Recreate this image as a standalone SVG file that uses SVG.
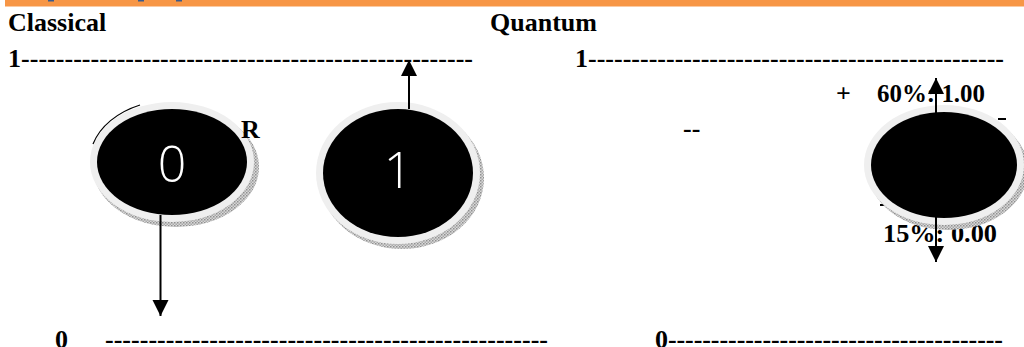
<svg xmlns="http://www.w3.org/2000/svg" width="1024" height="347" viewBox="0 0 1024 347">
<style>
.lbl{font-family:"Liberation Serif","Times New Roman",serif;font-weight:bold;font-size:26px;fill:#000}
.sm{font-size:25px}
.dig{font-family:"Open Sans","Noto Sans",sans-serif;font-weight:300;font-size:50px;fill:#fff;text-anchor:middle}
.ring{fill:#efefef}
.core{fill:#000}
.shadow{fill:url(#hatch)}
.conn{stroke:#000;stroke-width:2;fill:none}
</style>
<defs>
<pattern id="hatch" width="3" height="3" patternUnits="userSpaceOnUse">
<rect width="3" height="3" fill="#d8d8d8"/>
<rect width="1.5" height="1.5" fill="#909090"/>
<rect x="1.5" y="1.5" width="1.5" height="1.5" fill="#a8a8a8"/>
</pattern>
<marker id="ah" markerWidth="16" markerHeight="18" refX="16" refY="8" orient="auto" markerUnits="userSpaceOnUse">
<path d="M0,0 L16,8 L0,16 Z" fill="#000"/>
</marker>
</defs>

<rect x="5" y="0" width="1019" height="6.5" fill="#F79646"/>
<rect x="48" y="0" width="6" height="1.5" fill="#3a5a8c"/>
<rect x="138" y="0" width="6" height="1.5" fill="#3a5a8c"/>
<rect x="176" y="0" width="6" height="1.5" fill="#3a5a8c"/>

<text class="lbl" x="8" y="31">Classical</text>
<text class="lbl" x="490" y="31">Quantum</text>
<text class="lbl" x="8" y="67" textLength="465" lengthAdjust="spacing">1----------------------------------------------------</text>
<text class="lbl" x="575" y="67" textLength="429" lengthAdjust="spacing">1------------------------------------------------</text>
<text class="lbl" x="55" y="348">0</text>
<text class="lbl" x="105" y="348" textLength="443" lengthAdjust="spacing">---------------------------------------------------</text>
<text class="lbl" x="655" y="348" textLength="348" lengthAdjust="spacing">0---------------------------------------</text>
<text class="lbl" x="683" y="137">--</text>
<text class="lbl" x="836" y="102" font-weight="normal" font-size="24">+</text>
<text class="lbl sm" x="877" y="102" textLength="108" lengthAdjust="spacingAndGlyphs">60%: 1.00</text>
<text class="lbl sm" x="883" y="242" textLength="114" lengthAdjust="spacingAndGlyphs">15%: 0.00</text>

<g id="node-classical-0">
<ellipse class="shadow" cx="176" cy="167" rx="83" ry="60"/>
<ellipse class="ring" cx="172" cy="162" rx="82" ry="60"/>
<path d="M93,144 A83,61 0 0,1 140,105" stroke="#000" stroke-width="1.2" fill="none"/>
<ellipse class="core" cx="172" cy="162" rx="75" ry="53"/>
<text class="dig" x="172" y="182">0</text>
</g>
<text class="lbl" x="241" y="138" font-size="24">R</text>

<g id="node-classical-1">
<ellipse class="shadow" cx="402" cy="178" rx="82" ry="71"/>
<ellipse class="ring" cx="398" cy="173" rx="82" ry="71"/>
<ellipse class="core" cx="398" cy="173" rx="75" ry="64"/>
<text class="dig" x="398" y="188">1</text>
</g>

<g id="node-quantum">
<rect x="998" y="118" width="8" height="2" fill="#000"/>
<rect x="880" y="204" width="8" height="2" fill="#000"/>
<ellipse class="shadow" cx="948" cy="170" rx="80" ry="60"/>
<ellipse class="ring" cx="944" cy="165" rx="80" ry="60"/>
<ellipse class="core" cx="944" cy="165" rx="73" ry="53"/>
</g>

<g id="connectors">
<line class="conn" x1="160.5" y1="215" x2="160.5" y2="316" marker-end="url(#ah)"/>
<line class="conn" x1="409" y1="109" x2="409" y2="60" marker-end="url(#ah)"/>
<line class="conn" x1="936" y1="165" x2="936" y2="78" marker-end="url(#ah)"/>
<line class="conn" x1="936" y1="165" x2="936" y2="262" marker-end="url(#ah)"/>
</g>
</svg>
